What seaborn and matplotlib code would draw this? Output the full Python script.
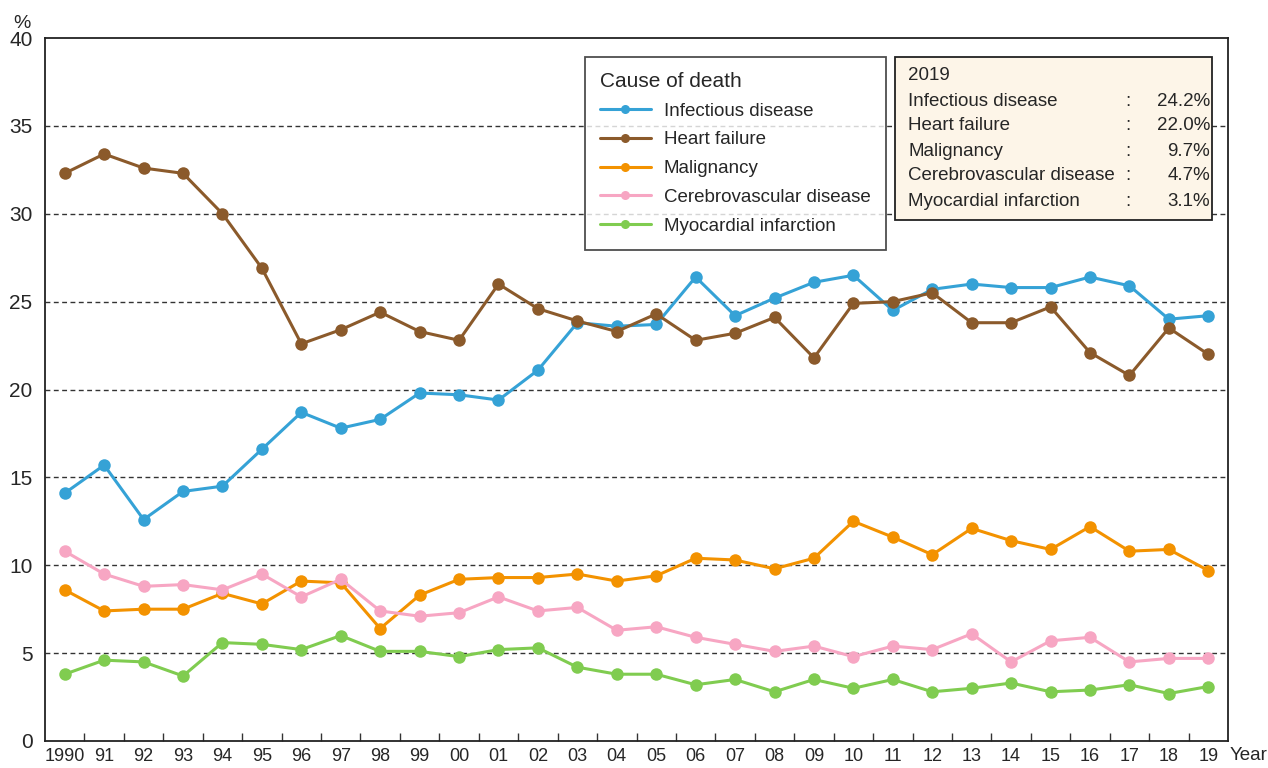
import numpy as np
import pandas as pd
import matplotlib
matplotlib.use("Agg")
import matplotlib.pyplot as plt
import seaborn as sns
from matplotlib.patches import Rectangle

# --- data ---
years = list(range(1990, 2020))
year_labels = ["1990"] + [f"{y % 100:02d}" for y in range(1991, 2020)]

infectious = [14.1, 15.7, 12.6, 14.2, 14.5, 16.6, 18.7, 17.8, 18.3, 19.8,
              19.7, 19.4, 21.1, 23.8, 23.6, 23.7, 26.4, 24.2, 25.2, 26.1,
              26.5, 24.5, 25.7, 26.0, 25.8, 25.8, 26.4, 25.9, 24.0, 24.2]
heart = [32.3, 33.4, 32.6, 32.3, 30.0, 26.9, 22.6, 23.4, 24.4, 23.3,
         22.8, 26.0, 24.6, 23.9, 23.3, 24.3, 22.8, 23.2, 24.1, 21.8,
         24.9, 25.0, 25.5, 23.8, 23.8, 24.7, 22.1, 20.8, 23.5, 22.0]
malignancy = [8.6, 7.4, 7.5, 7.5, 8.4, 7.8, 9.1, 9.0, 6.4, 8.3,
              9.2, 9.3, 9.3, 9.5, 9.1, 9.4, 10.4, 10.3, 9.8, 10.4,
              12.5, 11.6, 10.6, 12.1, 11.4, 10.9, 12.2, 10.8, 10.9, 9.7]
cerebro = [10.8, 9.5, 8.8, 8.9, 8.6, 9.5, 8.2, 9.2, 7.4, 7.1,
           7.3, 8.2, 7.4, 7.6, 6.3, 6.5, 5.9, 5.5, 5.1, 5.4,
           4.8, 5.4, 5.2, 6.1, 4.5, 5.7, 5.9, 4.5, 4.7, 4.7]
myocardial = [3.8, 4.6, 4.5, 3.7, 5.6, 5.5, 5.2, 6.0, 5.1, 5.1,
              4.8, 5.2, 5.3, 4.2, 3.8, 3.8, 3.2, 3.5, 2.8, 3.5,
              3.0, 3.5, 2.8, 3.0, 3.3, 2.8, 2.9, 3.2, 2.7, 3.1]

causes = ["Infectious disease", "Heart failure", "Malignancy",
          "Cerebrovascular disease", "Myocardial infarction"]
series = [infectious, heart, malignancy, cerebro, myocardial]
colors = ["#35a2d6", "#8b5a2b", "#f39200", "#f7a6c3", "#80cc50"]

df = pd.concat(
    [pd.DataFrame({"idx": range(len(years)), "value": s, "cause": c})
     for c, s in zip(causes, series)],
    ignore_index=True,
)

# --- style ---
sns.set_theme(style="white")
plt.rcParams["font.family"] = ["Liberation Sans", "DejaVu Sans"]

fig = plt.figure(figsize=(12.68, 7.68), dpi=100)
ax = fig.add_axes([45 / 1268, 1 - 741 / 768, 1183 / 1268, 703 / 768])

sns.lineplot(data=df, x="idx", y="value", hue="cause", hue_order=causes,
             palette=colors, marker="o", markersize=9, markeredgewidth=0,
             linewidth=2.2, ax=ax, legend=True)

ax.set_xlim(-0.5, len(years) - 0.5)
ax.set_ylim(0, 40)
ax.set_yticks(range(0, 41, 5))
ax.set_yticklabels([str(v) for v in range(0, 41, 5)], fontsize=15)
ax.set_xticks(range(len(years)))
ax.set_xticklabels(year_labels, fontsize=13)
ax.set_xticks(np.arange(0.5, len(years) - 1, 1), minor=True)
ax.tick_params(axis="x", which="major", length=0, pad=5)
ax.tick_params(axis="x", which="minor", length=6, width=1, direction="in",
               color="#333333", bottom=True)
ax.tick_params(axis="y", length=0, pad=9)
ax.set_xlabel("")
ax.set_ylabel("")

for v in range(5, 40, 5):
    ax.axhline(v, color="#333333", linestyle=(0, (3.5, 2.5)), linewidth=1, zorder=0)

for sp in ax.spines.values():
    sp.set_color("#222222")
    sp.set_linewidth(1.3)

fig.text(22 / 1268, 1 - 23 / 768, "%", fontsize=14, ha="center", va="center")
fig.text(1249 / 1268, 1 - 756 / 768, "Year", fontsize=13.5, ha="center",
         va="center")

# legend
handles, labels = ax.get_legend_handles_labels()
leg = ax.legend(handles, labels, title="Cause of death", loc="upper left",
                bbox_to_anchor=((585 - 45) / 1183, (741 - 57) / 703),
                fontsize=13.5, title_fontsize=15, frameon=True, fancybox=False,
                edgecolor="#222222", handlelength=2.7, labelspacing=0.62,
                borderpad=0.8, handletextpad=0.7, borderaxespad=0)
leg._legend_box.align = "left"
leg.get_frame().set_linewidth(1.3)
for h in leg.legend_handles:
    h.set_markersize(6.5)

# 2019 summary box
fig.patches.append(Rectangle((895 / 1268, 1 - 220 / 768), 317 / 1268, 163 / 768,
                             transform=fig.transFigure, facecolor="#fdf5e8",
                             edgecolor="#222222", linewidth=1.3, zorder=5))
fig.text(908 / 1268, 1 - 76 / 768, str(years[-1]), fontsize=13.5,
         va="center", ha="left", zorder=6)
for i, (c, s) in enumerate(zip(causes, series)):
    yy = 1 - (101 + 25 * i) / 768
    fig.text(908 / 1268, yy, c, fontsize=13.5, va="center", ha="left", zorder=6)
    fig.text(1128 / 1268, yy, ":", fontsize=13.5, va="center", ha="center", zorder=6)
    fig.text(1210 / 1268, yy, f"{s[-1]:.1f}%", fontsize=13.5, va="center",
             ha="right", zorder=6)

fig.savefig("out.png", dpi=100)
